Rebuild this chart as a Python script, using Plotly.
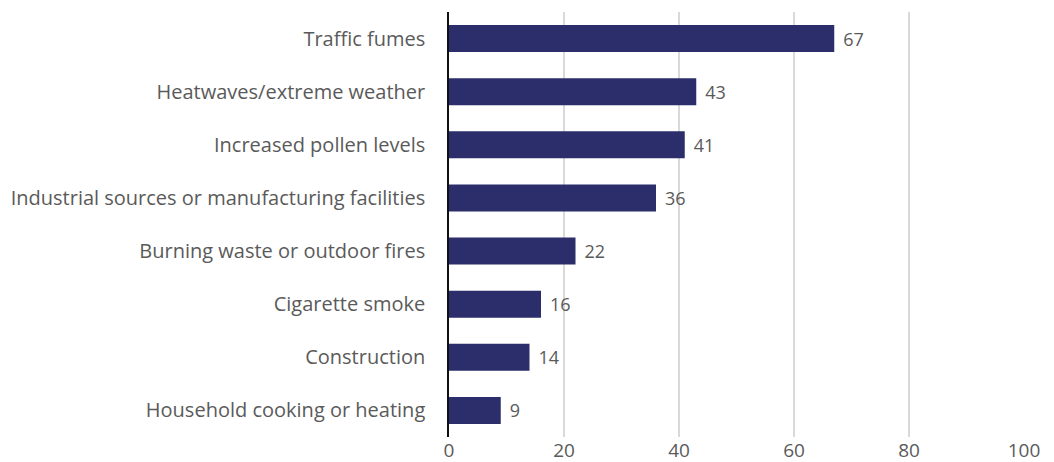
import plotly.graph_objects as go

# Share of respondents (%) citing each source of air pollution
categories = [
    "Traffic fumes",
    "Heatwaves/extreme weather",
    "Increased pollen levels",
    "Industrial sources or manufacturing facilities",
    "Burning waste or outdoor fires",
    "Cigarette smoke",
    "Construction",
    "Household cooking or heating",
]
values = [67, 43, 41, 36, 22, 16, 14, 9]
tick_vals = [0, 20, 40, 60, 80, 100]

font_family = "Open Sans, Noto Sans, sans-serif"
text_grey = "#5a5a5a"

fig = go.Figure()

fig.add_trace(go.Bar(
    x=values,
    y=categories,
    orientation="h",
    marker=dict(color="#2b2e6a", line=dict(width=0)),
    text=values,
    texttemplate="\u2004%{x}",
    textposition="outside",
    textfont=dict(family=font_family, size=18, color=text_grey),
    cliponaxis=False,
    hoverinfo="x+y",
))

# page body adds an 8px margin, so the figure is sized to fit inside it
fig.update_layout(
    width=1038,
    height=454,
    margin=dict(l=441, r=22, t=4, b=25),
    plot_bgcolor="white",
    paper_bgcolor="white",
    bargap=0.49,
    showlegend=False,
    font=dict(family=font_family, size=19, color=text_grey),
    xaxis=dict(
        range=[0, 100],
        tickvals=tick_vals,
        showgrid=True,
        gridcolor="#d9d9d9",
        gridwidth=1.5,
        zeroline=False,
        showline=False,
        ticks="",
        automargin=False,
        tickfont=dict(size=19, color=text_grey),
    ),
    yaxis=dict(
        autorange="reversed",
        showline=True,
        linecolor="#111111",
        linewidth=1.5,
        showgrid=False,
        ticks="",
        automargin=False,
        ticklabelstandoff=18,
        tickfont=dict(size=20, color=text_grey),
    ),
)

fig.write_html("out.html")
